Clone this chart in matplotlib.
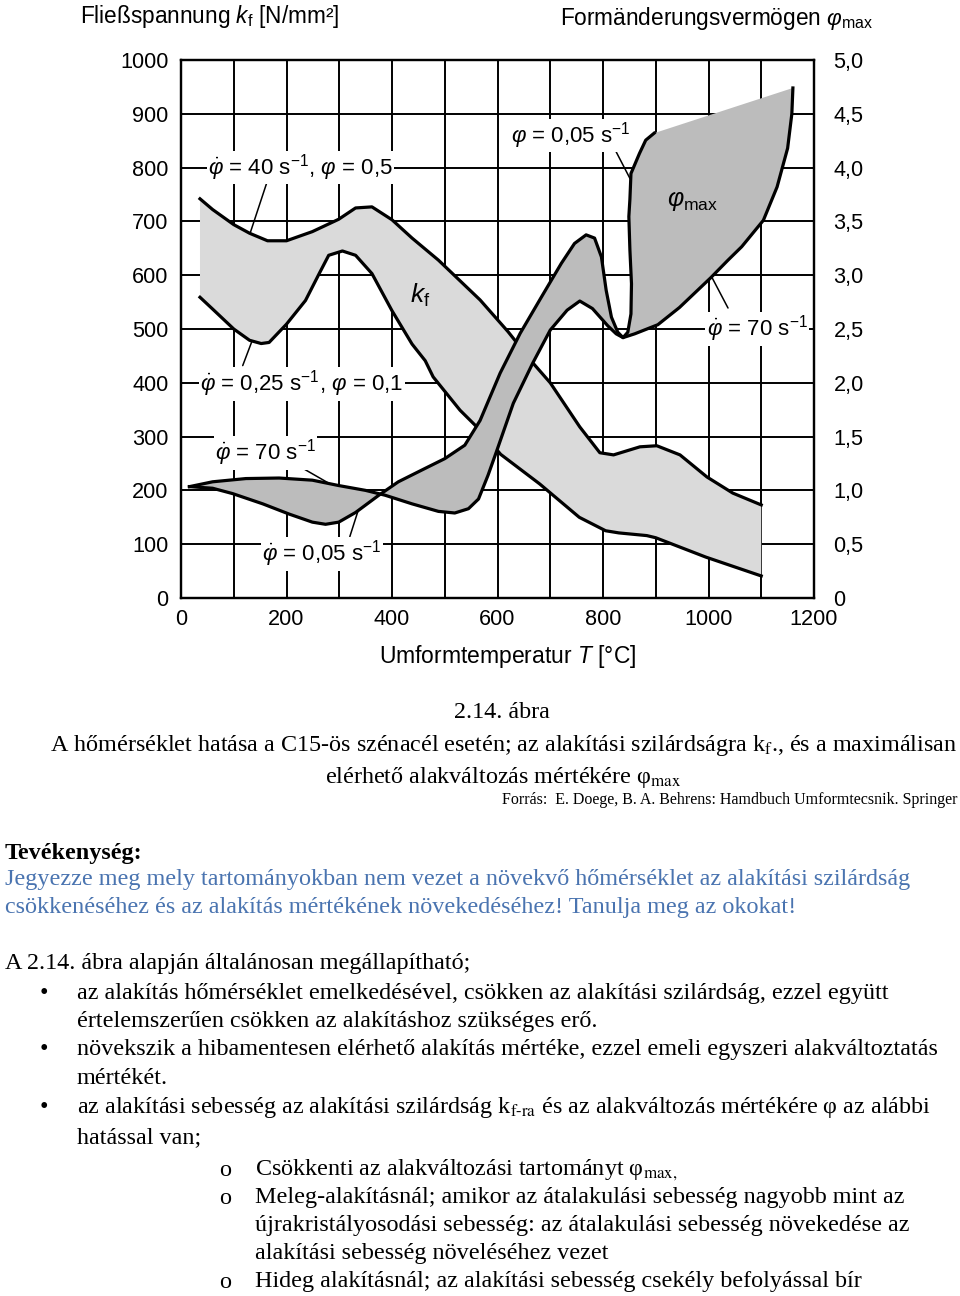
import matplotlib.pyplot as plt
import numpy as np

plt.rcParams['font.family'] = ['Liberation Sans', 'DejaVu Sans']
plt.rcParams['mathtext.fontset'] = 'custom'
plt.rcParams['mathtext.rm'] = 'Liberation Sans'
plt.rcParams['mathtext.it'] = 'Liberation Sans:italic'
plt.rcParams['mathtext.bf'] = 'Liberation Sans:bold'

# Fließspannung kf [N/mm²], phi_dot = 40 1/s, phi = 0.5 (upper edge of band)
kf40_T = [36, 60, 100, 130, 164, 200, 249, 299, 331, 362, 400, 438, 488, 567, 620,
          667, 700, 756, 794, 820, 870, 902, 946, 997, 1046, 1100]
kf40 = [742, 722, 694, 678, 664, 664, 681, 704, 725, 727, 703, 669, 628, 554, 495,
        437, 400, 318, 270, 266, 281, 283, 266, 225, 195, 173]
# phi_dot = 0.25 1/s, phi = 0.1 (lower edge of band)
kf025_T = [36, 60, 100, 130, 152, 167, 200, 236, 262, 280, 306, 331, 362, 400, 438,
           463, 478, 529, 567, 606, 680, 755, 805, 830, 883, 900, 995, 1100]
kf025 = [559, 537, 500, 479, 473, 475, 509, 553, 603, 637, 645, 637, 603, 534, 472,
         441, 411, 349, 312, 267, 212, 150, 125, 121, 116, 112, 76, 41]

# Formänderungsvermögen phi_max, phi_dot = 70 1/s
phi70_T = [16, 60, 123, 186, 249, 299, 350, 387, 438, 488, 519, 545, 564, 582, 598,
           630, 667, 700, 732, 756, 780, 809, 825, 838, 860, 904, 945, 1004, 1037,
           1063, 1104, 1130, 1150, 1158, 1160]
phi70 = [1.035, 1.08, 1.11, 1.115, 1.095, 1.045, 1.00, 0.955, 0.875, 0.805, 0.79,
         0.83, 0.92, 1.14, 1.36, 1.81, 2.185, 2.49, 2.675, 2.76, 2.69, 2.53, 2.455,
         2.42, 2.455, 2.54, 2.70, 2.975, 3.14, 3.265, 3.51, 3.82, 4.18, 4.50, 4.74]
# phi_dot = 0.05 1/s
phi005_T = [16, 60, 98, 155, 205, 249, 274, 299, 331, 375, 412, 463, 500, 538, 567,
            605, 643, 683, 721, 746, 768, 784, 797, 806, 816, 828, 838, 847, 853,
            854, 851, 849, 851, 853, 869, 881, 897]
phi005 = [1.035, 1.02, 0.97, 0.875, 0.78, 0.705, 0.685, 0.705, 0.795, 0.955, 1.08,
          1.205, 1.295, 1.42, 1.65, 2.09, 2.46, 2.795, 3.11, 3.295, 3.375, 3.345,
          3.17, 2.86, 2.61, 2.47, 2.42, 2.47, 2.64, 2.92, 3.235, 3.545, 3.705, 3.945,
          4.13, 4.255, 4.32]

x_ticks = list(range(0, 1201, 100))
x_labels = ['0', '', '200', '', '400', '', '600', '', '800', '', '1000', '', '1200']
kf_ticks = list(range(0, 1001, 100))
phi_ticks = [0, 0.5, 1.0, 1.5, 2.0, 2.5, 3.0, 3.5, 4.0, 4.5, 5.0]
phi_labels = ['0', '0,5', '1,0', '1,5', '2,0', '2,5', '3,0', '3,5', '4,0', '4,5', '5,0']

fig = plt.figure(figsize=(9.6, 12.96), dpi=100)
ax = fig.add_axes([181 / 960, 1 - 598 / 1296, 633 / 960, 538 / 1296])
ax.set_xlim(0, 1200)
ax.set_ylim(0, 1000)
ax.set_xticks(x_ticks)
ax.set_xticklabels(x_labels)
ax.set_yticks(kf_ticks)
ax.tick_params(length=0, labelsize=15.6)
ax.tick_params(axis='x', pad=8)
ax.tick_params(axis='y', pad=9)
ax.grid(True, color='black', lw=1.4)
ax.set_axisbelow(True)
for s in ax.spines.values():
    s.set_linewidth(1.6)

# kf band
ax.fill(kf40_T + kf025_T[::-1], kf40 + kf025[::-1], color='#dadada', lw=0, zorder=2)
ax.plot(kf40_T, kf40, color='black', lw=2.3, zorder=3, solid_joinstyle='round')
ax.plot(kf025_T, kf025, color='black', lw=2.3, zorder=3, solid_joinstyle='round')

ax2 = ax.twinx()
ax2.set_ylim(0, 5)
ax2.set_yticks(phi_ticks)
ax2.set_yticklabels(phi_labels)
ax2.tick_params(length=0, labelsize=15.6, pad=14)
for s in ax2.spines.values():
    s.set_linewidth(1.6)

# phi_max band
ax2.fill(phi70_T + phi005_T[::-1], phi70 + phi005[::-1], color='#bcbcbc', lw=0, zorder=2)
ax2.plot(phi70_T, phi70, color='black', lw=2.3, zorder=3, solid_joinstyle='round')
ax2.plot(phi005_T, phi005, color='black', lw=2.3, zorder=3, solid_joinstyle='round')

box = dict(facecolor='white', edgecolor='none', pad=1.0)
lead = dict(arrowstyle='-', color='black', lw=1.1, shrinkA=0, shrinkB=0)


def label(text, xy, xytext, tip):
    ax2.annotate('', xy=tip, xytext=xytext, xycoords=ax.transData,
                 textcoords=ax.transData, arrowprops=lead, zorder=5)
    ax2.text(xy[0], xy[1], text, transform=ax.transData, ha='center', va='center',
             fontsize=16, bbox=box, zorder=6)


label(r'$\dot{\varphi}$ = 40 s$^{-1}$, $\varphi$ = 0,5', (227, 800), (163, 773), (131, 678))
label(r'$\dot{\varphi}$ = 0,25 s$^{-1}$, $\varphi$ = 0,1', (229, 398), (117, 432), (134, 476))
label(r'$\dot{\varphi}$ = 70 s$^{-1}$', (160, 270), (231, 241), (279, 214))
label(r'$\dot{\varphi}$ = 0,05 s$^{-1}$', (267, 82), (320, 114), (335, 160))
label(r'$\varphi$ = 0,05 s$^{-1}$', (739, 860), (823, 833), (851, 780))
label(r'$\dot{\varphi}$ = 70 s$^{-1}$', (1092, 500), (1037, 539), (1007, 595))
ax2.text(453, 563, r'$k_\mathrm{f}$', transform=ax.transData, ha='center', va='center',
         fontsize=19, zorder=6)
ax2.text(969, 738, r'$\varphi_\mathrm{max}$', transform=ax.transData, ha='center',
         va='center', fontsize=18, zorder=6)

fig.text(80 / 960, 1 - 16 / 1296, r'Fließspannung $k_\mathrm{f}$ [N/mm²]', fontsize=16.3,
         ha='left', va='center')
fig.text(560 / 960, 1 - 18 / 1296, r'Formänderungsvermögen $\varphi_\mathrm{max}$',
         fontsize=16.3, ha='left', va='center')
fig.text(508 / 960, 1 - 657 / 1296, r'Umformtemperatur $T$ [°C]', fontsize=16.5,
         ha='center', va='center')

# text below the figure
serif = ['Liberation Serif', 'DejaVu Serif']
blue = '#4a74b0'


def line(x, y, s, ha='left', size=17.4, **kw):
    fig.text(x / 960, 1 - y / 1296, s, ha=ha, va='center', fontsize=size,
             family=serif, math_fontfamily='stix', **kw)


line(502, 712, '2.14. ábra', ha='center')
line(50, 745, 'A hőmérséklet hatása a C15-ös szénacél esetén; az alakítási szilárdságra '
     r'k$_{\mathrm{f}}$., és a maximálisan')
line(325, 777, r'elérhető alakváltozás mértékére φ$_{\mathrm{max}}$')
line(957, 800, 'Forrás:  E. Doege, B. A. Behrens: Hamdbuch Umformtecsnik. Springer',
     ha='right', size=11.5)
line(5, 853, 'Tevékenység:', weight='bold')
line(5, 880, 'Jegyezze meg mely tartományokban nem vezet a növekvő hőmérséklet az '
     'alakítási szilárdság', color=blue)
line(5, 908, 'csökkenéséhez és az alakítás mértékének növekedéséhez! Tanulja meg az okokat!',
     color=blue)
line(5, 963, 'A 2.14. ábra alapján általánosan megállapítható;')

for y in (993, 1050, 1108):
    line(40, y, '•')
line(77, 993, 'az alakítás hőmérséklet emelkedésével, csökken az alakítási szilárdság, '
     'ezzel együtt')
line(77, 1021, 'értelemszerűen csökken az alakításhoz szükséges erő.')
line(77, 1050, 'növekszik a hibamentesen elérhető alakítás mértéke, ezzel emeli egyszeri '
     'alakváltoztatás')
line(77, 1078, 'mértékét.')
line(77, 1108, 'az alakítási sebesség az alakítási szilárdság '
     r'k$_{\mathrm{f\text{-}ra}}$ és az alakváltozás mértékére φ az alábbi')
line(77, 1138, 'hatással van;')

for y in (1170, 1198, 1282):
    line(219, y, 'o')
line(255, 1170, r'Csökkenti az alakváltozási tartományt φ$_{\mathrm{max,}}$')
line(255, 1198, 'Meleg-alakításnál; amikor az átalakulási sebesség nagyobb mint az')
line(255, 1226, 'újrakristályosodási sebesség: az átalakulási sebesség növekedése az')
line(255, 1254, 'alakítási sebesség növeléséhez vezet')
line(255, 1282, 'Hideg alakításnál; az alakítási sebesség csekély befolyással bír')

fig.savefig('out.png', dpi=100)
